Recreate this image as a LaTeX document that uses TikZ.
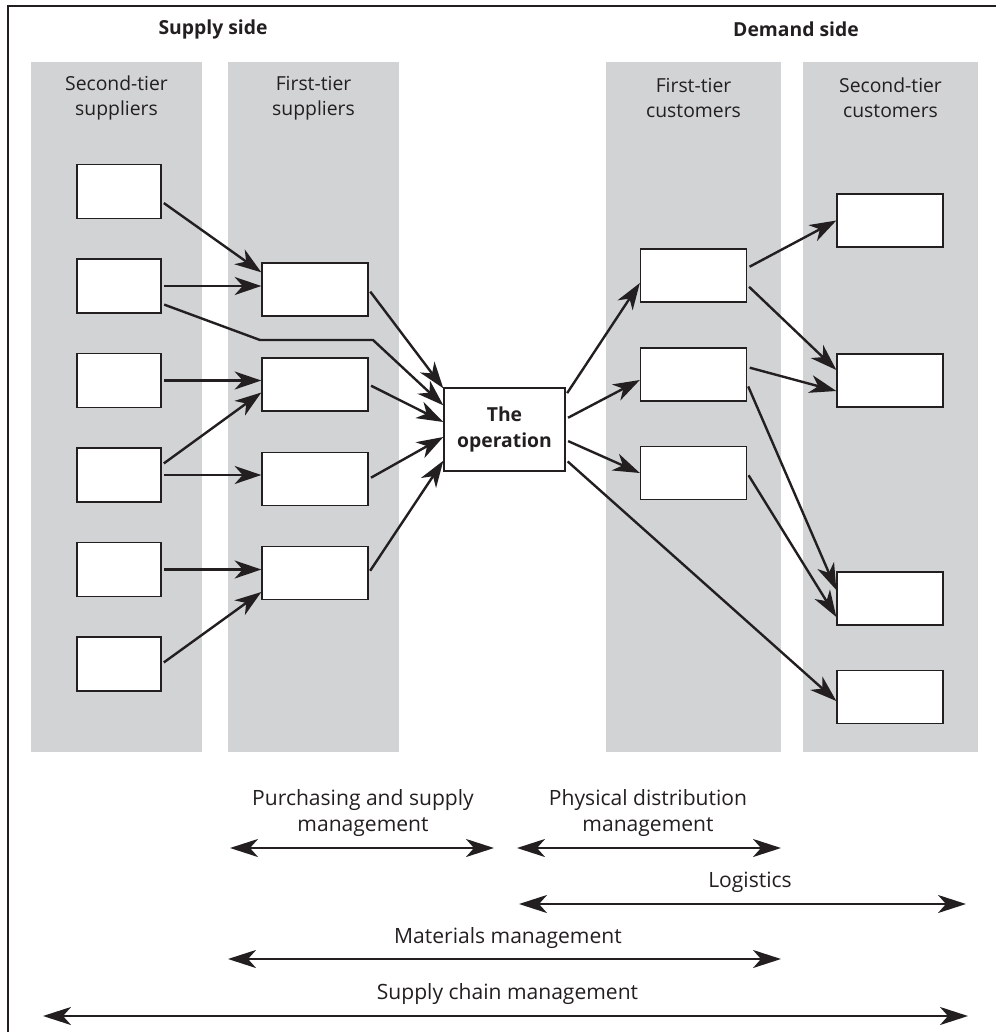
\documentclass[tikz,border=0pt]{standalone}
\usepackage{fontspec}
\setmainfont{Open Sans}
\usetikzlibrary{arrows.meta,positioning,fit,backgrounds,calc}
\definecolor{scink}{HTML}{231F20}
\definecolor{scband}{HTML}{D1D3D4}
\newcommand{\px}{0.75pt}

\begin{document}
\begin{tikzpicture}[
  x=0.75pt, y=-0.75pt,
  font=\fontsize{14.5}{19}\selectfont, text=scink,
  band/.style={fill=scband, inner sep=0pt},
  tierlbl/.style={align=center, font=\fontsize{14.5}{18.75}\selectfont},
  sidehead/.style={font=\fontsize{14.5}{18}\selectfont\bfseries},
  firm/.style={
    draw=scink, line width=1pt, fill=white, inner sep=0pt,
    minimum width=106*\px, minimum height=53*\px},
  supbox/.style={firm, minimum width=84*\px, minimum height=54*\px},
  opbox/.style={firm, minimum width=121*\px, minimum height=83*\px,
    align=center, font=\fontsize{14.5}{19.5}\selectfont\bfseries},
  flow/.style={-{Stealth[length=20pt, width=13.5pt, inset=6pt]}, scink,
    line width=1.8pt, shorten <=2pt},
  reach/.style={{Stealth[length=21pt, width=13.5pt, inset=6pt]}-{Stealth[length=21pt, width=13.5pt, inset=6pt]},
    scink, line width=1.9pt},
  reachlbl/.style={align=center, inner sep=0pt,
    font=\fontsize{15.8}{19.5}\selectfont},
]
\useasboundingbox (0,0) rectangle (996,1032);
\draw[scink, line width=1.1pt] (8,1032) -- (8,6) -- (996,6);

% ================= tiers ===========================================
\begin{scope}[on background layer]
  \node[band, fit={(31,62) (202,752)}]  (sup2) {};
  \node[band, fit={(228,62) (399,752)}] (sup1) {};
  \node[band, fit={(606,62) (781,752)}] (cus1) {};
  \node[band, fit={(803,62) (978,752)}] (cus2) {};
\end{scope}

\node[sidehead] (supside) at (213,29) {Supply side};
\node[sidehead] (demside) at (796,29) {Demand side};

\node[tierlbl] (sup2lbl) at (116.5,98) {Second-tier\\suppliers};
\node[tierlbl] (sup1lbl) at (313.5,98) {First-tier\\suppliers};
\node[tierlbl] (cus1lbl) at (693.5,98) {First-tier\\customers};
\node[tierlbl] (cus2lbl) at (890.5,98) {Second-tier\\customers};

% ================= firms ===========================================
\foreach \y [count=\i] in {191.5,286,380.5,475,569.5,664}
  \node[supbox] (s\i) at (119,\y) {};
\foreach \y [count=\i] in {289.5,384.5,479,573}
  \node[firm] (f\i) at (315,\y) {};
\foreach \y [count=\i] in {275.5,374.5,473}
  \node[firm] (c\i) at (693.5,\y) {};
\foreach \y [count=\i] in {220.5,380.5,598.5,697}
  \node[firm] (d\i) at (890,\y) {};

\node[opbox] (op) at (504.5,429.5) {The\\operation};

% ================= supply flows ====================================
\foreach \a/\b in {s2/f1,s3/f2,s4/f3,s5/f4}
  \draw[flow] (\a.east) -- (\a.east -| \b.west);
\draw[flow] ($(s1.east)+(0,10)$) -- ($(f1.north west)+(0,10)$);
\draw[flow] ($(s4.east)+(0,-10)$) -- ($(f2.west)+(0,8)$);
\draw[flow] (s6.east) -- ($(f4.west)+(0,19)$);

% s2 skips the first tier and goes straight to the operation
\coordinate (bendA) at (260,340);
\coordinate (bendB) at (373,340);
\draw[flow] ($(s2.south east)+(0,-10)$) -- (bendA) -- (bendB)
  -- ($(op.north west)+(0,18)$);

\draw[flow] (f1.east) -- ($(op.north west)+(0,1)$);
\draw[flow] (f2.east) -- ($(op.west)+(0,-7.5)$);
\draw[flow] (f3.east) -- ($(op.west)+(0,7.5)$);
\draw[flow] (f4.east) -- ($(op.south west)+(0,-11)$);

% ================= demand flows ====================================
\draw[flow] ($(op.north east)+(0,8)$) -- ($(c1.west)+(0,7.5)$);
\draw[flow] ($(op.east)+(0,-10.5)$) -- ($(c2.west)+(0,5.5)$);
\draw[flow] ($(op.east)+(0,10.5)$) -- (c3.west);
\draw[flow] ($(op.south east)+(0,-12)$) -- ($(d4.west)+(0,4)$);

\draw[flow] ($(c1.east)+(0,-7.5)$) -- (d1.west);
\draw[flow] ($(c1.east)+(0,9.5)$) -- ($(d2.west)+(0,-10.5)$);
\draw[flow] ($(c2.east)+(0,-7.5)$) -- ($(d2.west)+(0,10.5)$);
\draw[flow] ($(c2.east)+(0,9.5)$) -- ($(d3.west)+(0,-8.5)$);
\draw[flow] (c3.east) -- ($(d3.west)+(0,18.5)$);

% ================= scope of each management field ==================
\coordinate (purL) at (230,848);  \coordinate (purR) at (494,848);
\coordinate (pdmL) at (517,848);  \coordinate (pdmR) at (781,848);
\coordinate (logL) at (519,904);  \coordinate (logR) at (966,904);
\coordinate (matL) at (228,959);  \coordinate (matR) at (781,959);
\coordinate (scmL) at (43,1016);  \coordinate (scmR) at (968,1016);

\draw[reach] (purL) -- (purR);
\draw[reach] (pdmL) -- (pdmR);
\draw[reach] (logL) -- (logR);
\draw[reach] (matL) -- (matR);
\draw[reach] (scmL) -- (scmR);

\node[reachlbl] (purlbl) at (363,813.5) {Purchasing and supply\\management};
\node[reachlbl] (pdmlbl) at (648,813.5) {Physical distribution\\management};
\node[reachlbl] (loglbl) at (750,882)   {Logistics};
\node[reachlbl] (matlbl) at (508,938)   {Materials management};
\node[reachlbl] (scmlbl) at (507.5,994.5) {Supply chain management};

\end{tikzpicture}
\end{document}
